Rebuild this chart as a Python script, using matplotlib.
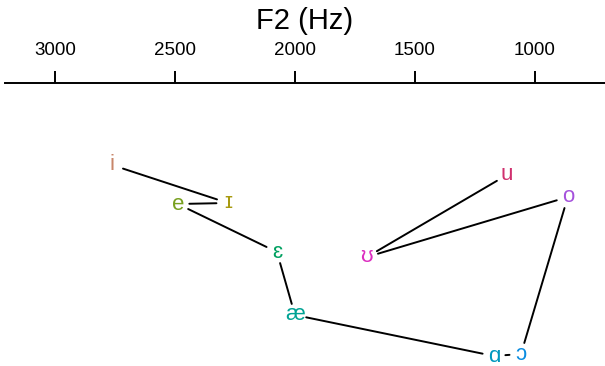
import matplotlib
matplotlib.use("Agg")
import matplotlib.pyplot as plt

plt.rcParams['font.family'] = ['Liberation Sans', 'DejaVu Sans']

# vowel means (Hz)
vowels = ['i', 'ɪ', 'e', 'ɛ', 'æ', 'ɑ', 'ɔ', 'o', 'ʊ', 'u']
f2 = [2762, 2279, 2488, 2075, 2000, 1171, 1058, 863, 1700, 1117]
f1 = [300, 414, 417, 561, 750, 873, 867, 396, 576, 330]
colors = ['#C8866A', '#A89A10', '#78A020', '#00A060', '#00A394',
          '#0098BE', '#0A8CE0', '#A552DC', '#DC2EC0', '#D0306E']
f2_ticks = [3000, 2500, 2000, 1500, 1000]

fig = plt.figure(figsize=(6.05, 3.66), dpi=100)
ax = fig.add_axes([5 / 605, 0, 600 / 605, (366 - 83) / 366])

# connecting lines with gaps around the labels
for k in range(len(vowels) - 1):
    ax.annotate('', xy=(f2[k + 1], f1[k + 1]), xytext=(f2[k], f1[k]),
                arrowprops=dict(arrowstyle='-', color='black', lw=1.4,
                                shrinkA=8.3, shrinkB=8.3))

for v, x, y, c in zip(vowels, f2, f1, colors):
    ax.text(x, y, v, color=c, fontsize=16, ha='center', va='center')

ax.set_xlim(3208, 708)
ax.set_ylim(903, 54)

for side in ['left', 'right', 'bottom']:
    ax.spines[side].set_visible(False)
ax.spines['top'].set_linewidth(1.4)
ax.xaxis.tick_top()
ax.xaxis.set_label_position('top')
ax.set_xticks(f2_ticks)
ax.set_xticklabels([str(t) for t in f2_ticks], fontsize=13.5)
ax.tick_params(axis='x', direction='out', length=8.6, width=1.4, pad=9)
ax.set_yticks([])
ax.set_xlabel('F2 (Hz)', fontsize=21, labelpad=9)

fig.savefig('out.png', dpi=100)
